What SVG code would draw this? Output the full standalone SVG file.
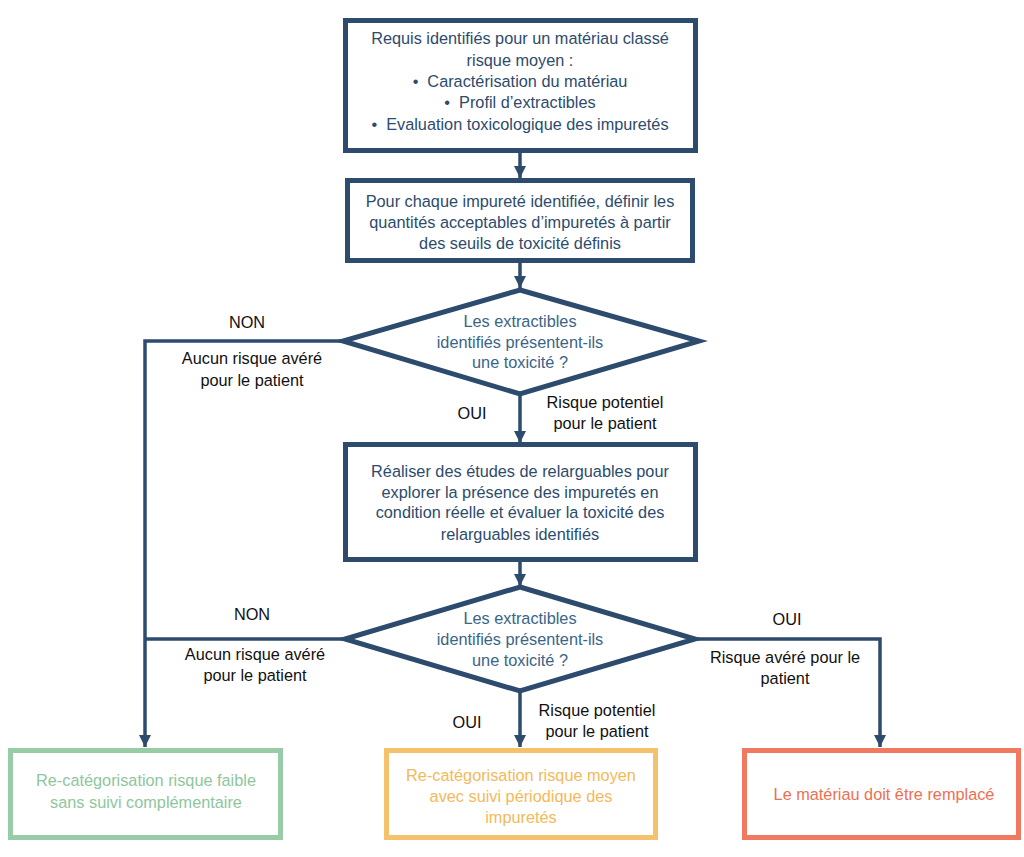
<svg xmlns="http://www.w3.org/2000/svg" width="1024" height="857" viewBox="0 0 1024 857">
<style>
text{font-family:"Liberation Sans",Arial,sans-serif;font-size:16.3px;text-anchor:middle}
.box{fill:#fff;stroke:#2d4b6c;stroke-width:5}
.dia{fill:#fff;stroke:#2d4b6c;stroke-width:5;stroke-linejoin:miter}
.bt{fill:#2d4b6c}
.dt{fill:#3a6587}
.lb{fill:#111}
.con{fill:none;stroke:#2d4b6c;stroke-width:3.5}
</style>
<defs>
<marker id="ah" viewBox="0 0 12 12" refX="12" refY="6" markerWidth="12" markerHeight="12" markerUnits="userSpaceOnUse" orient="auto">
<path d="M0,0 L12,6 L0,12 Z" fill="#2d4b6c"/>
</marker>
</defs>
<rect width="1024" height="857" fill="#fff"/>
<g id="connectors">
<line class="con" x1="520" y1="153" x2="520" y2="178" marker-end="url(#ah)"/>
<line class="con" x1="520" y1="263" x2="520" y2="288" marker-end="url(#ah)"/>
<line class="con" x1="520" y1="395" x2="520" y2="443" marker-end="url(#ah)"/>
<line class="con" x1="520" y1="562" x2="520" y2="586" marker-end="url(#ah)"/>
<line class="con" x1="520" y1="692" x2="520" y2="747" marker-end="url(#ah)"/>
<polyline class="con" points="343,341 145,341 145,747" marker-end="url(#ah)"/>
<line class="con" x1="345" y1="639" x2="145" y2="639"/>
<polyline class="con" points="695,639 880,639 880,747" marker-end="url(#ah)"/>
</g>
<g id="n1">
<rect class="box" x="345.5" y="20.5" width="350" height="130"/>
<text class="bt" x="520" y="44">Requis identifiés pour un matériau classé</text>
<text class="bt" x="520" y="66">risque moyen :</text>
<text class="bt" x="520" y="87">•&#160;&#160;Caractérisation du matériau</text>
<text class="bt" x="520" y="108">•&#160;&#160;Profil d’extractibles</text>
<text class="bt" x="520" y="130">•&#160;&#160;Evaluation toxicologique des impuretés</text>
</g>
<g id="n2">
<rect class="box" x="347.5" y="180.5" width="345" height="80"/>
<text class="bt" x="520" y="207">Pour chaque impureté identifiée, définir les</text>
<text class="bt" x="520" y="228">quantités acceptables d’impuretés à partir</text>
<text class="bt" x="520" y="249">des seuils de toxicité définis</text>
</g>
<g id="d1">
<polygon class="dia" points="520,290 699,341 520,394 343,341"/>
<text class="dt" x="520" y="327">Les extractibles</text>
<text class="dt" x="520" y="348">identifiés présentent-ils</text>
<text class="dt" x="520" y="368">une toxicité ?</text>
</g>
<g id="n3">
<rect class="box" x="345.5" y="444.5" width="350" height="115"/>
<text class="bt" x="520" y="477">Réaliser des études de relarguables pour</text>
<text class="bt" x="520" y="498">explorer la présence des impuretés en</text>
<text class="bt" x="520" y="518">condition réelle et évaluer la toxicité des</text>
<text class="bt" x="520" y="540">relarguables identifiés</text>
</g>
<g id="d2">
<polygon class="dia" points="520,587 695,639 520,691 345,639"/>
<text class="dt" x="520" y="624">Les extractibles</text>
<text class="dt" x="520" y="645">identifiés présentent-ils</text>
<text class="dt" x="520" y="666">une toxicité ?</text>
</g>
<g id="labels">
<text class="lb" x="247" y="328">NON</text>
<text class="lb" x="252" y="364">Aucun risque avéré</text>
<text class="lb" x="252" y="386">pour le patient</text>
<text class="lb" x="472" y="419">OUI</text>
<text class="lb" x="605" y="408">Risque potentiel</text>
<text class="lb" x="605" y="429">pour le patient</text>
<text class="lb" x="252" y="620">NON</text>
<text class="lb" x="255" y="660">Aucun risque avéré</text>
<text class="lb" x="255" y="681">pour le patient</text>
<text class="lb" x="787" y="625">OUI</text>
<text class="lb" x="785" y="663">Risque avéré pour le</text>
<text class="lb" x="785" y="684">patient</text>
<text class="lb" x="467" y="728">OUI</text>
<text class="lb" x="597" y="716">Risque potentiel</text>
<text class="lb" x="597" y="737">pour le patient</text>
</g>
<g id="g1">
<rect x="10.5" y="750.5" width="270" height="87" fill="#fff" stroke="#98cca6" stroke-width="5"/>
<text x="146" y="786" fill="#8ec69d">Re-catégorisation risque faible</text>
<text x="146" y="808" fill="#8ec69d">sans suivi complémentaire</text>
</g>
<g id="g2">
<rect x="386.5" y="750.5" width="269" height="87" fill="#fff" stroke="#f5c26b" stroke-width="5"/>
<text x="521" y="781" fill="#f3b95a">Re-catégorisation risque moyen</text>
<text x="521" y="802" fill="#f3b95a">avec suivi périodique des</text>
<text x="521" y="823" fill="#f3b95a">impuretés</text>
</g>
<g id="g3">
<rect x="744.5" y="750.5" width="274" height="87" fill="#fff" stroke="#f07a5f" stroke-width="5"/>
<text x="884" y="800" fill="#ee6f52">Le matériau doit être remplacé</text>
</g>
</svg>
